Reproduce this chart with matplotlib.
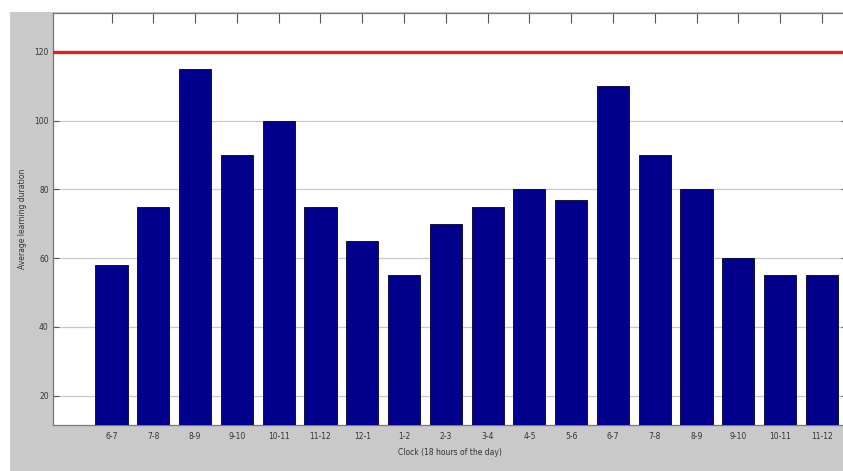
import numpy as np
import matplotlib.pyplot as plt
from matplotlib.patches import Rectangle

# hour slots of the day and the average duration per slot
slots = ["6-7", "7-8", "8-9", "9-10", "10-11", "11-12", "12-1", "1-2", "2-3",
         "3-4", "4-5", "5-6", "6-7", "7-8", "8-9", "9-10", "10-11", "11-12"]
durations = [58, 75, 115, 90, 100, 75, 65, 55, 70,
             75, 80, 77, 110, 90, 80, 60, 55, 55]
threshold = 120

fig = plt.figure(figsize=(8.43, 4.71), dpi=100, facecolor="white")
# grey window background, with white strips at top and left
fig.patches.append(Rectangle((10 / 843, 0), 1, 1 - 12 / 471, transform=fig.transFigure,
                             facecolor="#c9c9c9", edgecolor="none", zorder=-10))

ax = fig.add_axes([53 / 843, 46 / 471, 794 / 843, 412 / 471])
ax.set_facecolor("white")

x = np.arange(1, len(durations) + 1)
ax.bar(x, durations, width=0.77, color="#00008c", edgecolor="#000030", linewidth=0.6, zorder=3)
ax.axhline(threshold, color="#dd1f26", linewidth=2.4, zorder=4)

ax.set_xlim(-0.4, 18.6)
ax.set_ylim(11.5, 131.3)
ax.set_xticks(x)
ax.set_xticklabels(slots)
ax.set_yticks([20, 40, 60, 80, 100, 120])

ax.yaxis.grid(True, color="#c8c8c8", linewidth=0.9, zorder=0)
ax.tick_params(axis="both", direction="in", labelsize=5.5, labelcolor="#333333",
               color="#555555", top=True, right=True)
ax.tick_params(axis="x", length=7, pad=5)
ax.tick_params(axis="y", length=4, pad=3)
for s in ax.spines.values():
    s.set_color("#777777")
    s.set_linewidth(0.9)

ax.set_xlabel("Clock (18 hours of the day)", fontsize=5.5, color="#333333", labelpad=5)
ax.set_ylabel("Average learning duration", fontsize=5.5, color="#333333", labelpad=5)

fig.savefig("out.png", dpi=100, facecolor=fig.get_facecolor())
